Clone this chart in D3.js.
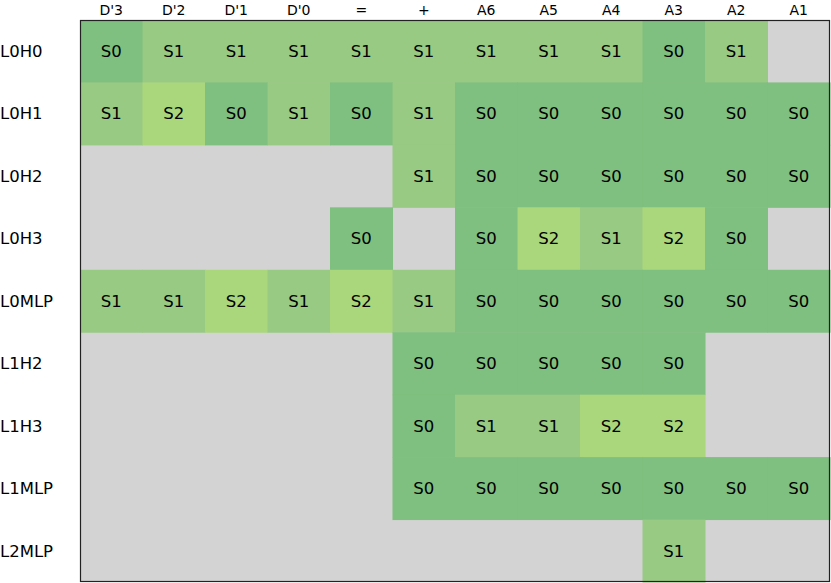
<!DOCTYPE html>
<meta charset="utf-8">
<style>
body { margin: 0; background: #fff; }
text { font-family: "DejaVu Sans", sans-serif; font-size: 16.5px; fill: #000; }
text.colLabel { font-size: 14px; }
</style>
<body>
<svg></svg>
<script src="https://d3js.org/d3.v7.min.js"></script>
<script>

var columns = ["D'3", "D'2", "D'1", "D'0", "=", "+", "A6", "A5", "A4", "A3", "A2", "A1"];
var rows = ["L0H0", "L0H1", "L0H2", "L0H3", "L0MLP", "L1H2", "L1H3", "L1MLP", "L2MLP"];

// one string per row, "" = no state (grey)
var L0H0  = ["S0", "S1", "S1", "S1", "S1", "S1", "S1", "S1", "S1", "S0", "S1", ""];
var L0H1  = ["S1", "S2", "S0", "S1", "S0", "S1", "S0", "S0", "S0", "S0", "S0", "S0"];
var L0H2  = ["", "", "", "", "", "S1", "S0", "S0", "S0", "S0", "S0", "S0"];
var L0H3  = ["", "", "", "", "S0", "", "S0", "S2", "S1", "S2", "S0", ""];
var L0MLP = ["S1", "S1", "S2", "S1", "S2", "S1", "S0", "S0", "S0", "S0", "S0", "S0"];
var L1H2  = ["", "", "", "", "", "S0", "S0", "S0", "S0", "S0", "", ""];
var L1H3  = ["", "", "", "", "", "S0", "S1", "S1", "S2", "S2", "", ""];
var L1MLP = ["", "", "", "", "", "S0", "S0", "S0", "S0", "S0", "S0", "S0"];
var L2MLP = ["", "", "", "", "", "", "", "", "", "S1", "", ""];

var states = [L0H0, L0H1, L0H2, L0H3, L0MLP, L1H2, L1H3, L1MLP, L2MLP];

var margin = {top: 20, right: 1, bottom: 1, left: 80},
    width = 831 - margin.left - margin.right,
    height = 583 - margin.top - margin.bottom;

var svg = d3.select("svg")
    .attr("width", 831)
    .attr("height", 583)
  .append("g")
    .attr("transform", "translate(" + margin.left + "," + margin.top + ")");

var x = d3.scaleBand().domain(columns).range([0, width]);
var y = d3.scaleBand().domain(rows).range([0, height]);

var color = d3.scaleOrdinal()
    .domain(["S0", "S1", "S2"])
    .range(["#7fbf7f", "#98ca83", "#aad67c"]);

var cells = [];
rows.forEach(function(r, i) {
  columns.forEach(function(c, j) {
    cells.push({row: r, col: c, state: states[i][j]});
  });
});

svg.append("rect")
    .attr("width", width)
    .attr("height", height)
    .attr("fill", "#d3d3d3");

svg.selectAll(".cell")
    .data(cells.filter(function(d) { return d.state; }))
  .enter().append("rect")
    .attr("class", "cell")
    .attr("x", function(d) { return x(d.col); })
    .attr("y", function(d) { return y(d.row); })
    .attr("width", x.bandwidth() + 0.5)
    .attr("height", y.bandwidth() + 0.5)
    .attr("fill", function(d) { return color(d.state); });

svg.selectAll(".lbl")
    .data(cells.filter(function(d) { return d.state; }))
  .enter().append("text")
    .attr("class", "lbl")
    .attr("x", function(d) { return x(d.col) + x.bandwidth() / 2; })
    .attr("y", function(d) { return y(d.row) + y.bandwidth() / 2; })
    .attr("text-anchor", "middle")
    .attr("dy", "0.35em")
    .text(function(d) { return d.state; });

svg.selectAll(".colLabel")
    .data(columns)
  .enter().append("text")
    .attr("class", "colLabel")
    .attr("x", function(d) { return x(d) + x.bandwidth() / 2; })
    .attr("y", -10)
    .attr("text-anchor", "middle")
    .attr("dy", "0.35em")
    .text(function(d) { return d; });

svg.selectAll(".rowLabel")
    .data(rows)
  .enter().append("text")
    .attr("class", "rowLabel")
    .attr("x", -80)
    .attr("y", function(d) { return y(d) + y.bandwidth() / 2; })
    .attr("dy", "0.35em")
    .text(function(d) { return d; });

svg.append("rect")
    .attr("x", 0.5)
    .attr("y", 0.5)
    .attr("width", width - 1)
    .attr("height", height - 1)
    .attr("fill", "none")
    .attr("stroke", "#222")
    .attr("stroke-width", 1.2);

</script>
</body>
